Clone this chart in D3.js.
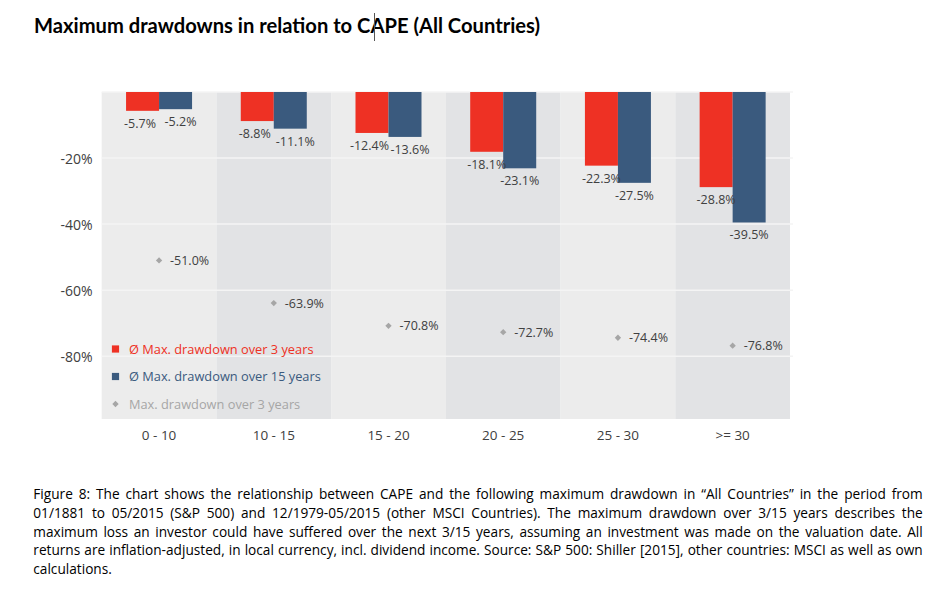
<!DOCTYPE html>
<html>
<head>
<meta charset="utf-8">
<script src="https://cdn.jsdelivr.net/npm/d3@7"></script>
<style>
  body { margin: 0; background: #fff; }
  .chart text { font-family: "Open Sans", "Noto Sans", sans-serif; fill: #404040; }
</style>
</head>
<body>
<div class="drawdown-chart"></div>
<script>
// values (percent)
var categories = ["0 - 10", "10 - 15", "15 - 20", "20 - 25", "25 - 30", ">= 30"];
var avgDrawdown3 = [-5.7, -8.8, -12.4, -18.1, -22.3, -28.8];
var avgDrawdown15 = [-5.2, -11.1, -13.6, -23.1, -27.5, -39.5];
var maxDrawdown3 = [-51.0, -63.9, -70.8, -72.7, -74.4, -76.8];
var yTicks = [-20, -40, -60, -80];
var seriesNames = ["Ø Max. drawdown over 3 years", "Ø Max. drawdown over 15 years", "Max. drawdown over 3 years"];

var titleText = "Maximum drawdowns in relation to CAPE (All Countries)";
var captionLines = [
  "Figure 8: The chart shows the relationship between CAPE and the following maximum drawdown in \u201cAll Countries\u201d in the period from",
  "01/1881 to 05/2015 (S&P 500) and 12/1979-05/2015 (other MSCI Countries). The maximum drawdown over 3/15 years describes the",
  "maximum loss an investor could have suffered over the next 3/15 years, assuming an investment was made on the valuation date. All",
  "returns are inflation-adjusted, in local currency, incl. dividend income. Source: S&P 500: Shiller [2015], other countries: MSCI as well as own",
  "calculations."
];

// plain hyphen, not the unicode minus d3.format gives
function pct(v){ return v.toFixed(1) + "%"; }

/**
 * Constructor for the drawdown chart
 */
function DrawdownChart(){
    var self = this;
    self.init();
};

/**
 * Sets up svg, scales and colours
 */
DrawdownChart.prototype.init = function(){
    var self = this;
    self.width = 945;
    self.height = 596;
    self.plot = {left: 101.7, right: 790, top: 92, bottom: 419};

    self.svg = d3.select(".drawdown-chart").append("svg")
        .attr("class", "chart")
        .attr("width", self.width)
        .attr("height", self.height);

    self.x = d3.scaleBand()
        .domain(categories)
        .range([self.plot.left, self.plot.right]);

    // bars sit side by side in the middle of each band
    self.xSub = d3.scaleBand()
        .domain(["avg3", "avg15"])
        .range([0, 66]);

    self.y = d3.scaleLinear()
        .domain([0, -99])
        .range([self.plot.top, self.plot.bottom]);

    self.color = d3.scaleOrdinal()
        .domain(["avg3", "avg15", "max3"])
        .range(["#ee3124", "#3a5a7e", "#a6a6a6"]);
};

DrawdownChart.prototype.update = function(){
    var self = this;
    var svg = self.svg;
    var x = self.x, y = self.y;
    var offset = (x.bandwidth() - self.xSub.bandwidth() * 2) / 2;

    // title
    svg.append("text")
        .attr("x", 34)
        .attr("y", 33)
        .attr("textLength", 506)
        .attr("lengthAdjust", "spacingAndGlyphs")
        .style("font-family", "Lato, 'Open Sans', sans-serif")
        .style("font-weight", "bold")
        .style("font-size", "21px")
        .style("fill", "#000")
        .text(titleText);
    // stray text cursor in the original
    svg.append("line")
        .attr("x1", 374.5).attr("x2", 374.5)
        .attr("y1", 13).attr("y2", 41)
        .attr("stroke", "#555").attr("stroke-width", 1);

    // alternating column backgrounds
    svg.append("g").selectAll("rect")
        .data(categories)
        .enter()
        .append("rect")
        .attr("x", function(d) { return x(d); })
        .attr("y", self.plot.top)
        .attr("width", x.bandwidth())
        .attr("height", self.plot.bottom - self.plot.top)
        .attr("fill", function(d, i) { return i % 2 ? "#e2e3e5" : "#ececec"; });

    // grid lines
    svg.append("g").selectAll("line")
        .data([0].concat(yTicks))
        .enter()
        .append("line")
        .attr("x1", self.plot.left)
        .attr("x2", self.plot.right + 3)
        .attr("y1", function(d) { return y(d); })
        .attr("y2", function(d) { return y(d); })
        .attr("stroke", "#f4f4f4")
        .attr("stroke-width", 1.5);

    // y axis labels
    var yAxis = svg.append("g")
        .attr("transform", "translate(" + (self.plot.left - 6) + ",0)")
        .call(d3.axisLeft(y).tickValues(yTicks).tickSize(0).tickFormat(function(d) { return d + "%"; }));
    yAxis.select(".domain").remove();
    yAxis.selectAll("text")
        .attr("dy", "0.36em")
        .style("font-size", "14px")
        .style("font-family", "'Open Sans', sans-serif")
        .attr("fill", "#404040");

    // x axis labels
    var xAxis = svg.append("g")
        .attr("transform", "translate(0," + self.plot.bottom + ")")
        .call(d3.axisBottom(x).tickSize(0));
    xAxis.select(".domain").remove();
    xAxis.selectAll("text")
        .attr("y", 21)
        .attr("dy", 0)
        .style("font-size", "13.5px")
        .style("font-family", "'Open Sans', sans-serif")
        .attr("fill", "#333");

    // grouped bars
    var barData = [];
    categories.forEach(function(c, i) {
        // labels of two bars of near equal height get pushed apart
        var close = Math.abs(y(avgDrawdown3[i]) - y(avgDrawdown15[i])) < 14;
        barData.push({cat: c, key: "avg3", value: avgDrawdown3[i], dx: close ? -2.5 : 0});
        barData.push({cat: c, key: "avg15", value: avgDrawdown15[i], dx: close ? 5 : 0});
    });

    svg.append("g").selectAll("rect")
        .data(barData)
        .enter()
        .append("rect")
        .attr("x", function(d) { return x(d.cat) + offset + self.xSub(d.key); })
        .attr("y", y(0))
        .attr("width", self.xSub.bandwidth())
        .attr("height", function(d) { return y(d.value) - y(0); })
        .attr("fill", function(d) { return self.color(d.key); });

    svg.append("g").selectAll("text")
        .data(barData)
        .enter()
        .append("text")
        .attr("x", function(d) { return x(d.cat) + offset + self.xSub(d.key) + self.xSub.bandwidth() / 2 + d.dx; })
        .attr("y", function(d) { return y(d.value) + 17; })
        .attr("text-anchor", "middle")
        .style("font-size", "12.5px")
        .text(function(d) { return pct(d.value); });

    // max drawdown diamonds
    var diamond = d3.symbol().type(d3.symbolSquare).size(20);
    var pts = svg.append("g").selectAll("g")
        .data(maxDrawdown3)
        .enter()
        .append("g")
        .attr("transform", function(d, i) { return "translate(" + (x(categories[i]) + x.bandwidth() / 2) + "," + y(d) + ")"; });
    pts.append("path")
        .attr("d", diamond)
        .attr("transform", "rotate(45)")
        .attr("fill", self.color("max3"));
    pts.append("text")
        .attr("x", 11)
        .attr("dy", "0.36em")
        .style("font-size", "12.5px")
        .text(function(d) { return pct(d); });

    // legend
    var keys = ["avg3", "avg15", "max3"];
    var legend = svg.append("g").selectAll("g")
        .data(keys)
        .enter()
        .append("g")
        .attr("transform", function(d, i) { return "translate(115.5," + (349 + i * 27.5) + ")"; });
    legend.filter(function(d) { return d != "max3"; })
        .append("rect")
        .attr("x", -3.6).attr("y", -3.6)
        .attr("width", 7.2).attr("height", 7.2)
        .attr("fill", function(d) { return self.color(d); });
    legend.filter(function(d) { return d == "max3"; })
        .append("path")
        .attr("d", diamond)
        .attr("transform", "rotate(45)")
        .attr("fill", self.color("max3"));
    legend.append("text")
        .attr("x", 13.5)
        .attr("dy", "0.36em")
        .style("font-size", "12.8px")
        .style("fill", function(d) { return self.color(d); })
        .text(function(d, i) { return seriesNames[i]; });

    self.caption();
};

/**
 * Justified caption under the chart
 */
DrawdownChart.prototype.caption = function(){
    var self = this;
    var left = 33.3, right = 922.7, avail = right - left;
    var fontSize = 15.3;
    var g = self.svg.append("g")
        .style("font-family", "Lato, 'Open Sans', sans-serif")
        .style("fill", "#000");

    function measure(str, size){
        var t = g.append("text").style("font-size", size + "px").style("fill", "#000").text(str);
        var w = t.node().getComputedTextLength();
        t.remove();
        return w;
    }

    // shrink the font if the widest line would not fit
    var widest = d3.max(captionLines.slice(0, 4), function(l) { return measure(l, fontSize); });
    if (widest > avail - 10) fontSize = fontSize * (avail - 10) / widest;
    var spaceW = measure("a a", fontSize) - measure("aa", fontSize);

    captionLines.forEach(function(line, li){
        var words = line.split(" ");
        var widths = words.map(function(w) { return measure(w, fontSize); });
        var gap = spaceW;
        if (li < captionLines.length - 1 && words.length > 1)
            gap = (avail - d3.sum(widths)) / (words.length - 1);
        var t = g.append("text")
            .attr("y", 499.3 + li * 18.7)
            .style("font-size", fontSize + "px")
            .style("fill", "#000");
        var cx = left;
        words.forEach(function(w, wi){
            t.append("tspan").attr("x", cx).text(w);
            cx += widths[wi] + gap;
        });
    });
};

var chart = new DrawdownChart();
chart.update();
</script>
</body>
</html>
